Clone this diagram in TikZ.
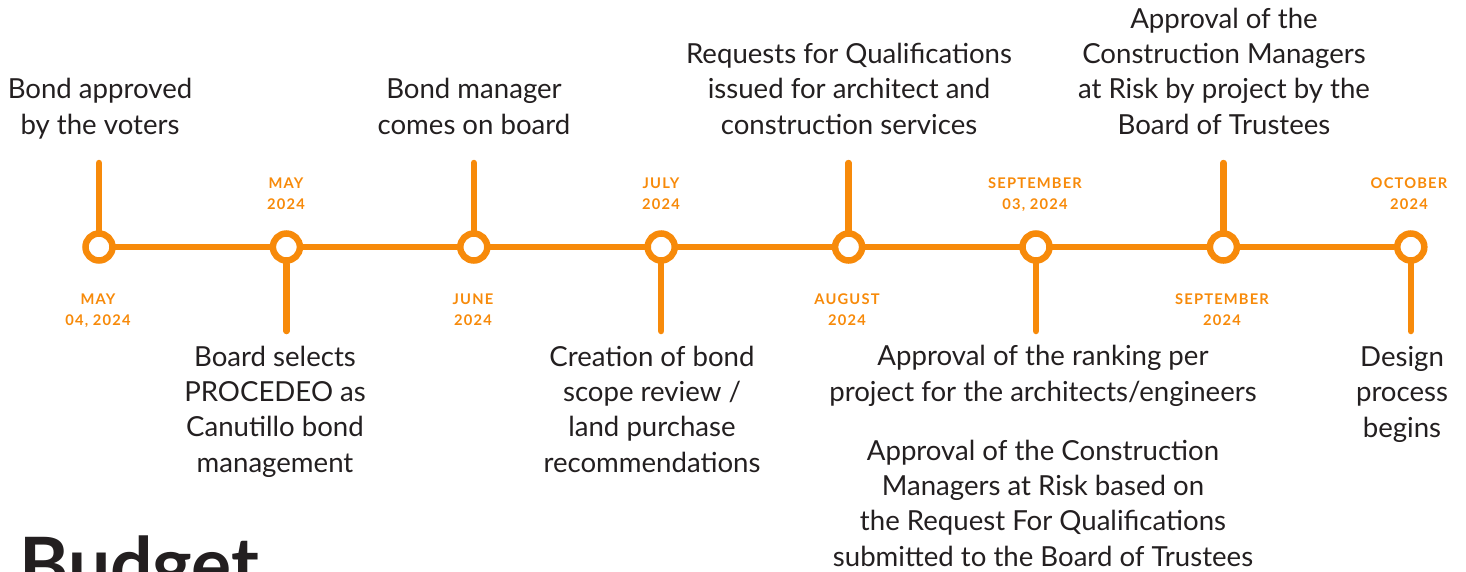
\documentclass[tikz,border=0pt]{standalone}
\usepackage{fontspec}
\setmainfont{Lato}
\usepackage{tikz}
\definecolor{tlorange}{HTML}{F78A0A}
\definecolor{tltext}{HTML}{231F20}

\begin{document}
\begin{tikzpicture}[x=1pt,y=-1pt]
\tikzstyle{every node}+=[inner sep=0pt]
\tikzstyle{bar}=[tlorange, line width=6.5pt, line cap=round]
\tikzstyle{dot}=[circle, draw=tlorange, line width=6.5pt, fill=white, minimum size=27pt]
\tikzstyle{event}=[align=center, text=tltext, font=\fontsize{27.6}{35.3}\selectfont, anchor=base]
\tikzstyle{when}=[align=center, text=tlorange, font=\fontsize{14.7}{21}\selectfont\bfseries\addfontfeature{LetterSpace=8}, anchor=base]
\useasboundingbox (0,0) rectangle (1466,571);
\clip (0,0) rectangle (1466,571);
\node [dot] (m1) at (99,247) {};
\node [dot] (m2) at (286.4,247) {};
\node [dot] (m3) at (473.8,247) {};
\node [dot] (m4) at (661.2,247) {};
\node [dot] (m5) at (848.6,247) {};
\node [dot] (m6) at (1036,247) {};
\node [dot] (m7) at (1223.4,247) {};
\node [dot] (m8) at (1410.8,247) {};
\draw [bar] (m1) -- (m2) -- (m3) -- (m4) -- (m5) -- (m6) -- (m7) -- (m8);
\coordinate (s1) at (99,163);
\coordinate (s2) at (286.4,331);
\coordinate (s3) at (473.8,163);
\coordinate (s4) at (661.2,331);
\coordinate (s5) at (848.6,163);
\coordinate (s6) at (1036,331);
\coordinate (s7) at (1223.4,163);
\coordinate (s8) at (1410.8,331);
\draw [bar] (s1) -- (m1);
\draw [bar] (m2) -- (s2);
\draw [bar] (s3) -- (m3);
\draw [bar] (m4) -- (s4);
\draw [bar] (s5) -- (m5);
\draw [bar] (m6) -- (s6);
\draw [bar] (s7) -- (m7);
\draw [bar] (m8) -- (s8);
\node [when] (d1) at (98,325.5) {MAY\\04, 2024};
\node [when] (d2) at (286,209.5) {MAY\\2024};
\node [when] (d3) at (473,325.5) {JUNE\\2024};
\node [when] (d4) at (661,209.5) {JULY\\2024};
\node [when] (d5) at (847,325.5) {AUGUST\\2024};
\node [when] (d6) at (1035,209.5) {SEPTEMBER\\03, 2024};
\node [when] (d7) at (1222,325.5) {SEPTEMBER\\2024};
\node [when] (d8) at (1409,209.5) {OCTOBER\\2024};
\node [event] (e1) at (100,134) {Bond approved\\by the voters};
\node [event] (e2) at (275,472) {Board selects\\PROCEDEO as\\Canutillo bond\\management};
\node [event] (e3) at (474,134) {Bond manager\\comes on board};
\node [event] (e4) at (652,472) {Creation of bond\\scope review /\\land purchase\\recommendations};
\node [event] (e5) at (849,134) {Requests for Qualifications\\issued for architect and\\construction services};
\node [event] (e6) at (1043,401) {Approval of the ranking per\\project for the architects/engineers};
\node [event] (e6b) at (1043,566) {Approval of the Construction\\Managers at Risk based on\\the Request For Qualifications\\submitted to the Board of Trustees};
\node [event] (e7) at (1224,134) {Approval of the\\Construction Managers\\at Risk by project by the\\Board of Trustees};
\node [event] (e8) at (1402,437) {Design\\process\\begins};
\node [anchor=base west, text=tltext, font=\fontsize{75}{75}\selectfont\bfseries] (budget) at (19,591) {Budget};
\end{tikzpicture}
\end{document}
